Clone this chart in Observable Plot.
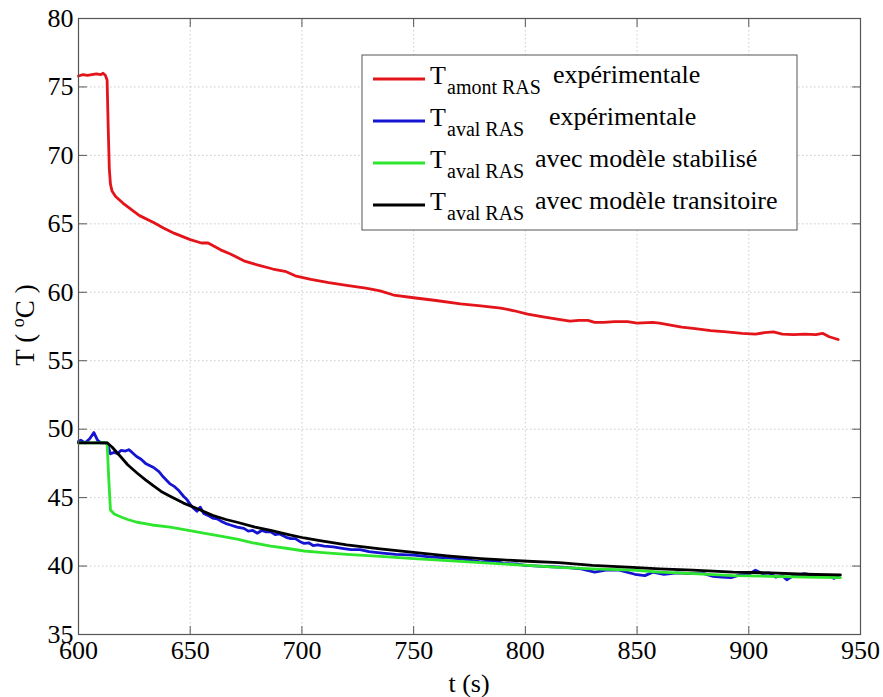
<!DOCTYPE html>
<html>
<head>
<meta charset="utf-8">
<script src="https://cdn.jsdelivr.net/npm/d3@7"></script>
<script src="https://cdn.jsdelivr.net/npm/@observablehq/plot@0.6"></script>
<style>
  html, body { margin: 0; padding: 0; background: #fff; }
  #chart { width: 883px; height: 697px; }
  #chart svg text { font-family: 'Liberation Serif', 'Times New Roman', serif !important; }
  #chart g[aria-label$="tick label"] { font-size: 26px !important; }
  #chart g[aria-label$="tick label"] text { font-size: 26px !important; }
</style>
</head>
<body>
<div id="chart"></div>
<script>
// ---- tick values ----
const xTicks = [600, 650, 700, 750, 800, 850, 900, 950];
const yTicks = [35, 40, 45, 50, 55, 60, 65, 70, 75, 80];

// ---- series: T amont RAS expérimentale (red) ----
const tAmont = [600,602,604,606,608,610,611,612,612.8,613.3,613.8,614.3,615,616.6,620,624,627.3,633.6,638,643,650,655,658,663.6,668,674,680,687,693,697,704,712,720,728.6,735,741,750,760,771,780,789,795,801,808,815.6,820,824,828,831,835,840,845.7,850,857,860,865,870,876,883,890,897,903,907,911,915,920,925,930,933,936,940];
const TAmont = [75.8,75.9,75.85,75.9,75.95,75.9,76.0,75.85,75.5,72,69,67.9,67.4,67.0,66.5,66.0,65.6,65.1,64.7,64.3,63.85,63.6,63.6,63.1,62.8,62.3,62.0,61.7,61.5,61.2,60.95,60.7,60.5,60.3,60.1,59.8,59.6,59.4,59.15,59.0,58.85,58.65,58.4,58.2,58.0,57.9,57.95,57.95,57.8,57.8,57.85,57.85,57.75,57.8,57.75,57.6,57.45,57.35,57.2,57.1,57.0,56.95,57.05,57.1,56.95,56.9,56.95,56.9,57.0,56.75,56.55];

// ---- series: T aval RAS expérimentale (blue) ----
const tAvalExp = [600,601,603,605,606.9,608.5,610,612,613,614.3,616,617.5,619,621,622.5,624,626,628,630,633.6,636,638,641,643,645,647,648.6,650,651,653,654.5,656,658,660,662,663.6,666,668,671,674,676,678,680,682,684,686,688,690,693,695,697,699,701,703,705,707,710,714,718,722,726,730,736,742,750,758,765,772,780,786,790,796,800,806,812,818,825,831,836,842,849,853.5,857,862,868,874,880,884,888,892,896,900,903,906,909,912,915,917,920,925,928,932,936,938,940];
const TAvalExp = [49.1,49.2,49.0,49.3,49.75,49.2,49.0,49.0,48.9,48.2,48.3,48.2,48.45,48.4,48.5,48.3,48.0,47.8,47.5,47.2,46.9,46.5,46.0,45.8,45.5,45.1,44.85,44.5,44.3,44.0,44.3,43.85,43.7,43.5,43.45,43.3,43.1,43.0,42.85,42.75,42.55,42.6,42.4,42.6,42.5,42.5,42.3,42.35,42.1,42.0,42.0,41.8,41.65,41.7,41.5,41.55,41.45,41.4,41.3,41.2,41.2,41.05,40.95,40.85,40.8,40.65,40.6,40.5,40.3,40.4,40.2,40.15,40.05,40.0,39.95,39.9,39.8,39.55,39.7,39.7,39.4,39.3,39.55,39.4,39.5,39.45,39.45,39.25,39.2,39.15,39.35,39.4,39.7,39.45,39.5,39.2,39.3,39.0,39.3,39.45,39.35,39.3,39.3,39.1,39.25];

// ---- series: T aval RAS avec modèle stabilisé (green) ----
const tStab = [600,612.8,613.5,614.3,616,618.8,622,626.2,633,641,648,656,663,671,678,686,693,701,708,720,735,750,765,780,801,815,830,848,860,875,893,910,925,941];
const TStab = [49.0,49.0,46.5,44.1,43.8,43.6,43.4,43.2,43.0,42.85,42.65,42.4,42.2,41.97,41.7,41.45,41.3,41.1,41.0,40.85,40.7,40.55,40.4,40.25,40.05,39.9,39.8,39.7,39.55,39.45,39.3,39.25,39.2,39.15];

// ---- series: T aval RAS avec modèle transitoire (black) ----
const tTrans = [600,612.8,615,618.8,622,626.2,630,633.6,637,641,647,653,660,666,671,679,686,694,701,708,720,735,750,765,780,790,801,815,830,848,860,875,893,910,925,941];
const TTrans = [49.0,49.0,48.7,48.0,47.4,46.8,46.3,45.85,45.45,45.1,44.6,44.2,43.7,43.4,43.2,42.85,42.6,42.3,42.05,41.85,41.55,41.25,41.0,40.75,40.55,40.45,40.35,40.25,40.05,39.9,39.8,39.7,39.55,39.5,39.4,39.35];

// ---- legend labels ----
const legendSub = ["amont RAS", "aval RAS", "aval RAS", "aval RAS"];
const legendText = ["expérimentale", "expérimentale", "avec modèle stabilisé", "avec modèle transitoire"];
const colors = ["#e4141b", "#1414d2", "#2ee62e", "#000000"];

const toRows = (ts, Ts) => ts.map((t, i) => ({t, T: Ts[i]}));
const series = [
  toRows(tAmont, TAmont),
  toRows(tAvalExp, TAvalExp),
  toRows(tStab, TStab),
  toRows(tTrans, TTrans)
];

const font = "'Liberation Serif', 'Times New Roman', serif";
const tickShape = {draw(context, l) { context.moveTo(0, 0); context.lineTo(0, -l); }};
const axisColor = "#555";

const svg = Plot.plot({
  width: 883,
  height: 697,
  marginLeft: 78,
  marginRight: 23,
  marginTop: 18,
  marginBottom: 63,
  style: {fontFamily: font, fontSize: "26px", color: "#000", background: "#fff"},
  x: {domain: [600, 950], label: null},
  y: {domain: [35, 80], label: null},
  marks: [
    Plot.gridX(xTicks, {stroke: "#bfbfbf", strokeOpacity: 1, strokeDasharray: "1.5,2.5", strokeWidth: 0.8}),
    Plot.gridY(yTicks, {stroke: "#bfbfbf", strokeOpacity: 1, strokeDasharray: "1.5,2.5", strokeWidth: 0.8}),
    Plot.axisX(xTicks, {tickSize: 0, tickPadding: 6, fontSize: 26, fontFamily: font, tickFormat: d => String(d)}),
    Plot.axisY(yTicks, {tickSize: 0, tickPadding: 5, fontSize: 26, fontFamily: font, tickFormat: d => String(d)}),
    Plot.vector(xTicks, {x: d => d, y: 35, length: 8, rotate: 0, anchor: "start", shape: tickShape, stroke: axisColor, strokeWidth: 1}),
    Plot.vector(xTicks, {x: d => d, y: 80, length: 8, rotate: 180, anchor: "start", shape: tickShape, stroke: axisColor, strokeWidth: 1}),
    Plot.vector(yTicks, {x: 600, y: d => d, length: 8, rotate: 90, anchor: "start", shape: tickShape, stroke: axisColor, strokeWidth: 1}),
    Plot.vector(yTicks, {x: 950, y: d => d, length: 8, rotate: -90, anchor: "start", shape: tickShape, stroke: axisColor, strokeWidth: 1}),
    ...series.map((rows, i) => Plot.line(rows, {x: "t", y: "T", stroke: colors[i], strokeWidth: 2.8, strokeLinejoin: "round"})),
    Plot.frame({stroke: axisColor, strokeWidth: 1.2})
  ]
});

document.getElementById("chart").appendChild(svg);

const root = d3.select(svg);

// axis labels
root.append("text")
  .attr("x", 469).attr("y", 692)
  .attr("text-anchor", "middle")
  .attr("font-family", font).attr("font-size", 26).attr("fill", "#000")
  .text("t (s)");

const yl = root.append("text")
  .attr("transform", "translate(34,325) rotate(-90)")
  .attr("text-anchor", "middle")
  .attr("font-family", font).attr("font-size", 27).attr("fill", "#000");
yl.append("tspan").text("T ( ");
yl.append("tspan").attr("font-size", 18).attr("dy", -10).text("o");
yl.append("tspan").attr("dy", 10).text("C )");

// legend
const lg = root.append("g").attr("text-anchor", "start");
lg.append("rect")
  .attr("x", 362).attr("y", 55).attr("width", 435).attr("height", 175)
  .attr("fill", "#fff").attr("stroke", "#555").attr("stroke-width", 1);
const rowY = [79, 121, 163, 205];
const descX = [553, 549, 535, 535];
legendText.forEach((txt, i) => {
  const y = rowY[i];
  lg.append("line")
    .attr("x1", 373).attr("x2", 425).attr("y1", y).attr("y2", y)
    .attr("stroke", colors[i]).attr("stroke-width", 2.8);
  lg.append("text")
    .attr("x", 430).attr("y", y + 5).attr("text-anchor", "start")
    .attr("font-family", font).attr("font-size", 26).attr("fill", "#000")
    .text("T");
  lg.append("text")
    .attr("x", 447).attr("y", y + 15).attr("text-anchor", "start")
    .attr("font-family", font).attr("font-size", 20).attr("fill", "#000")
    .text(legendSub[i]);
  lg.append("text")
    .attr("x", descX[i]).attr("y", y + 4).attr("text-anchor", "start")
    .attr("font-family", font).attr("font-size", 26).attr("fill", "#000")
    .text(txt);
});
</script>
</body>
</html>
